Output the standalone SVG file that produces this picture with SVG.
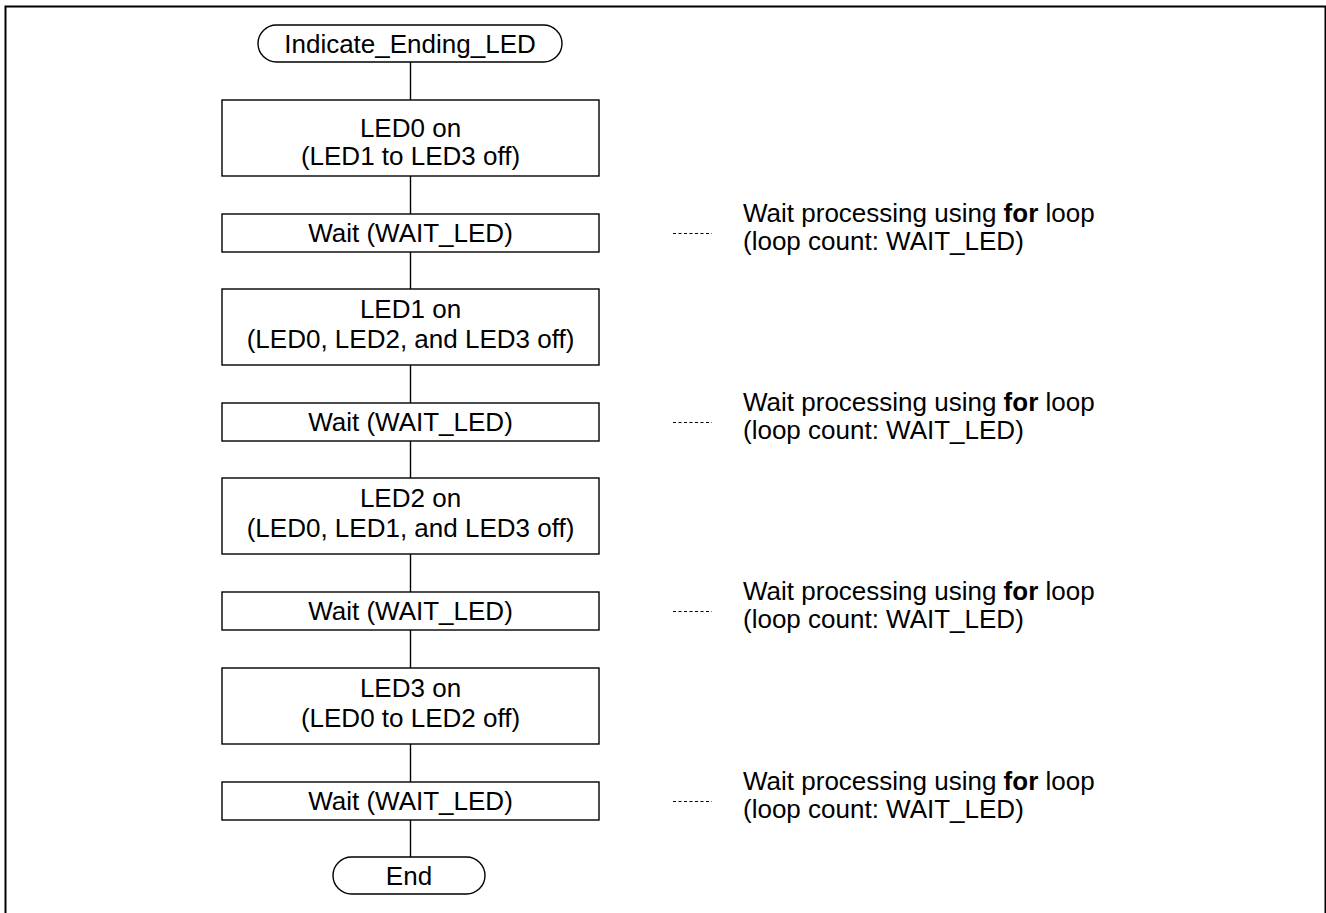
<svg xmlns="http://www.w3.org/2000/svg" width="1326" height="913" viewBox="0 0 1326 913">
<style>
  .box { fill: #ffffff; stroke: #000000; stroke-width: 1.4; }
  .line { stroke: #000000; stroke-width: 1.4; fill: none; }
  .dots { stroke: #000000; stroke-width: 1; stroke-dasharray: 3 2.5; fill: none; }
  .t { font-family: "Liberation Sans", Arial, sans-serif; font-size: 26px; fill: #000000; }
  .c { text-anchor: middle; }
  .b { font-weight: bold; }
</style>
<rect x="0" y="0" width="1326" height="913" fill="#ffffff"/>
<rect x="5.5" y="6.5" width="1320" height="930" fill="none" stroke="#000000" stroke-width="2"/>

<g id="connectors">
  <line class="line" x1="410.5" y1="62" x2="410.5" y2="100"/>
  <line class="line" x1="410.5" y1="176" x2="410.5" y2="214"/>
  <line class="line" x1="410.5" y1="252" x2="410.5" y2="289"/>
  <line class="line" x1="410.5" y1="365" x2="410.5" y2="403"/>
  <line class="line" x1="410.5" y1="441" x2="410.5" y2="478"/>
  <line class="line" x1="410.5" y1="554" x2="410.5" y2="592"/>
  <line class="line" x1="410.5" y1="630" x2="410.5" y2="668"/>
  <line class="line" x1="410.5" y1="744" x2="410.5" y2="782"/>
  <line class="line" x1="410.5" y1="820" x2="410.5" y2="857"/>
</g>

<g id="start">
  <rect class="box" x="258" y="25" width="304" height="37" rx="18.5" ry="18.5"/>
  <text class="t c" x="410" y="52.5">Indicate_Ending_LED</text>
</g>

<g id="led0">
  <rect class="box" x="222" y="100" width="377" height="76"/>
  <text class="t c" x="410.5" y="136.5">LED0 on</text>
  <text class="t c" x="410.5" y="165">(LED1 to LED3 off)</text>
</g>

<g id="wait1">
  <rect class="box" x="222" y="214" width="377" height="38"/>
  <text class="t c" x="410.5" y="242">Wait (WAIT_LED)</text>
</g>

<g id="led1">
  <rect class="box" x="222" y="289" width="377" height="76"/>
  <text class="t c" x="410.5" y="318">LED1 on</text>
  <text class="t c" x="410.5" y="348">(LED0, LED2, and LED3 off)</text>
</g>

<g id="wait2">
  <rect class="box" x="222" y="403" width="377" height="38"/>
  <text class="t c" x="410.5" y="431">Wait (WAIT_LED)</text>
</g>

<g id="led2">
  <rect class="box" x="222" y="478" width="377" height="76"/>
  <text class="t c" x="410.5" y="507">LED2 on</text>
  <text class="t c" x="410.5" y="537">(LED0, LED1, and LED3 off)</text>
</g>

<g id="wait3">
  <rect class="box" x="222" y="592" width="377" height="38"/>
  <text class="t c" x="410.5" y="620">Wait (WAIT_LED)</text>
</g>

<g id="led3">
  <rect class="box" x="222" y="668" width="377" height="76"/>
  <text class="t c" x="410.5" y="697">LED3 on</text>
  <text class="t c" x="410.5" y="727">(LED0 to LED2 off)</text>
</g>

<g id="wait4">
  <rect class="box" x="222" y="782" width="377" height="38"/>
  <text class="t c" x="410.5" y="810">Wait (WAIT_LED)</text>
</g>

<g id="end">
  <rect class="box" x="333" y="857" width="152" height="37" rx="18.5" ry="18.5"/>
  <text class="t c" x="409" y="884.5">End</text>
</g>

<g id="note1">
  <line class="dots" x1="673" y1="233.5" x2="712" y2="233.5"/>
  <text class="t" x="743" y="222">Wait processing using <tspan class="b">for</tspan> loop</text>
  <text class="t" x="743" y="250">(loop count: WAIT_LED)</text>
</g>
<g id="note2">
  <line class="dots" x1="673" y1="422.5" x2="712" y2="422.5"/>
  <text class="t" x="743" y="411">Wait processing using <tspan class="b">for</tspan> loop</text>
  <text class="t" x="743" y="439">(loop count: WAIT_LED)</text>
</g>
<g id="note3">
  <line class="dots" x1="673" y1="611.5" x2="712" y2="611.5"/>
  <text class="t" x="743" y="600">Wait processing using <tspan class="b">for</tspan> loop</text>
  <text class="t" x="743" y="628">(loop count: WAIT_LED)</text>
</g>
<g id="note4">
  <line class="dots" x1="673" y1="801.5" x2="712" y2="801.5"/>
  <text class="t" x="743" y="790">Wait processing using <tspan class="b">for</tspan> loop</text>
  <text class="t" x="743" y="818">(loop count: WAIT_LED)</text>
</g>
</svg>
